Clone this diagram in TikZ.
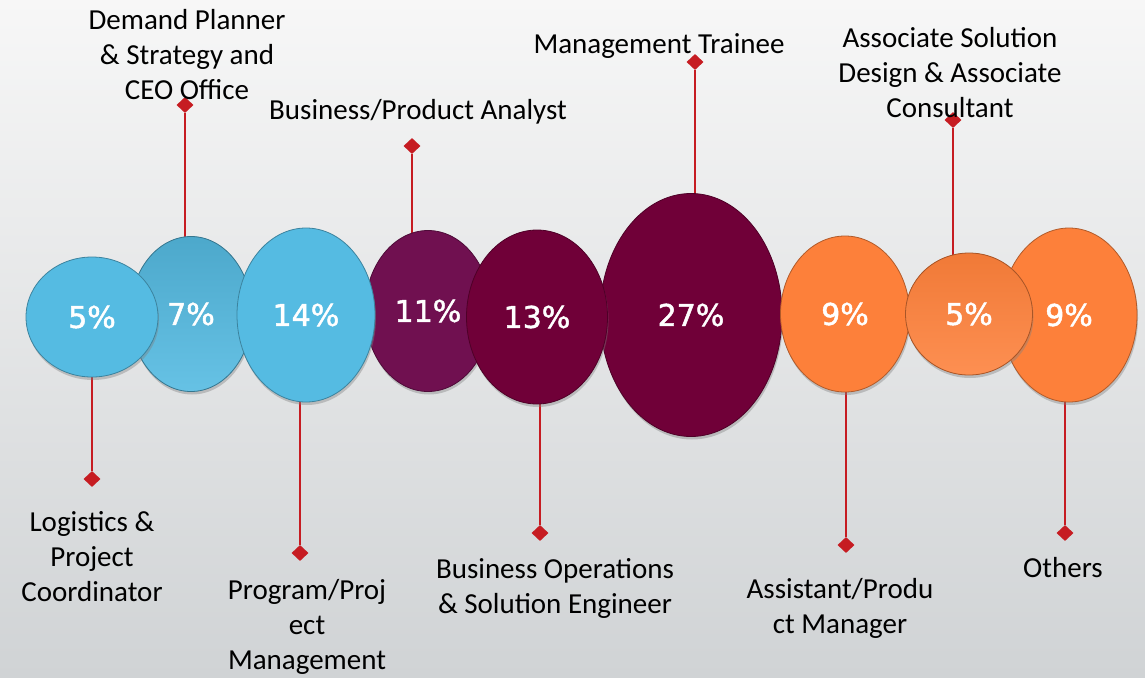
\documentclass[tikz,border=0pt]{standalone}
\usepackage{fontspec}
\setmainfont{Carlito}
\newfontfamily\pctfont[FakeBold=1.6]{DejaVu Sans}
\usetikzlibrary{shapes.geometric,shadows,positioning}
\pgfdeclarelayer{back}
\pgfdeclarelayer{links}
\pgfsetlayers{back,links,main}

\definecolor{bubblue}{RGB}{85,187,226}
\definecolor{bubpurple}{RGB}{112,16,80}
\definecolor{bubmaroon}{RGB}{112,0,56}
\definecolor{buborange}{RGB}{253,128,58}
\definecolor{linkred}{RGB}{198,28,34}
\definecolor{bgtop}{RGB}{247,247,247}
\definecolor{bgbottom}{RGB}{208,211,213}

\begin{document}
\begin{tikzpicture}[x=1pt,y=-1pt,
	bubble/.style={ellipse,inner sep=0pt,draw=#1!70!black,line width=0.8pt,fill=#1,
		text=white,font=\pctfont\fontsize{30}{36}\selectfont,
		drop shadow={shadow xshift=1pt,shadow yshift=-3pt,opacity=.4}},
	bubshade/.style 2 args={bubble=#1,top color=#1,bottom color=#2},
	endmark/.style={diamond,fill=linkred,inner sep=0pt,minimum width=17,minimum height=16},
	link/.style={draw=linkred,line width=2.8pt},
	lbl/.style={align=center,inner sep=0pt,font=\fontsize{29}{35}\selectfont}]
	\useasboundingbox (0,0) rectangle (1145,677);
	\begin{pgfonlayer}{back}
		\fill[top color=bgtop,bottom color=bgbottom] (0,0) rectangle (1145,677);
	\end{pgfonlayer}
	% bubbles, back to front
	\node[bubshade={bubblue!90!black}{bubblue!90!white},minimum width=122,minimum height=155] (b2) at (191,314) {7\%};
	\node[bubble=bubblue,minimum width=132,minimum height=120] (b1) at (92,317) {5\%};
	\node[bubble=bubpurple,minimum width=126,minimum height=161] (b4) at (428,311) {11\%};
	\node[bubble=bubblue,minimum width=138,minimum height=174] (b3) at (306,315) {14\%};
	\node[bubble=bubmaroon,minimum width=182,minimum height=243] (b6) at (691,315) {27\%};
	\node[bubble=bubmaroon,minimum width=141,minimum height=174] (b5) at (537,317) {13\%};
	\node[bubble=buborange,minimum width=129,minimum height=156] (b7) at (845,314) {9\%};
	\node[bubble=buborange,minimum width=136,minimum height=174] (b9) at (1069,315) {9\%};
	\node[bubshade={buborange!95!black}{buborange!88!white},minimum width=127,minimum height=122] (b8) at (969,314) {5\%};
	% diamonds
	\node[endmark] (d1) at (92,479) {};
	\node[endmark] (d2) at (185,105) {};
	\node[endmark] (d3) at (300,553) {};
	\node[endmark] (d4) at (412,146) {};
	\node[endmark] (d5) at (540,533) {};
	\node[endmark] (d6) at (695,62) {};
	\node[endmark] (d7) at (846,545) {};
	\node[endmark] (d8) at (953,120) {};
	\node[endmark] (d9) at (1065,533) {};
	\begin{pgfonlayer}{links}
		\foreach \i in {1,...,9}
			\draw[link] (d\i) -- (d\i |- b\i.center);
	\end{pgfonlayer}
	% labels
	\node[lbl] (l1) at (92,557) {Logistics \&\\Project\\Coordinator};
	\node[lbl] (l2) at (187,55) {Demand Planner\\\& Strategy and\\CEO Office};
	\node[lbl] (l3) at (307,627) {Program/Proj\\ect\\Management};
	\node[lbl] (l4) at (418,112) {Business/Product Analyst};
	\node[lbl] (l5) at (555,588) {Business Operations\\\& Solution Engineer};
	\node[lbl] (l6) at (659,46) {Management Trainee};
	\node[lbl] (l7) at (840,608) {Assistant/Produ\\ct Manager};
	\node[lbl] (l8) at (950,73) {Associate Solution\\Design \& Associate\\Consultant};
	\node[lbl] (l9) at (1063,568) {Others};
\end{tikzpicture}
\end{document}
